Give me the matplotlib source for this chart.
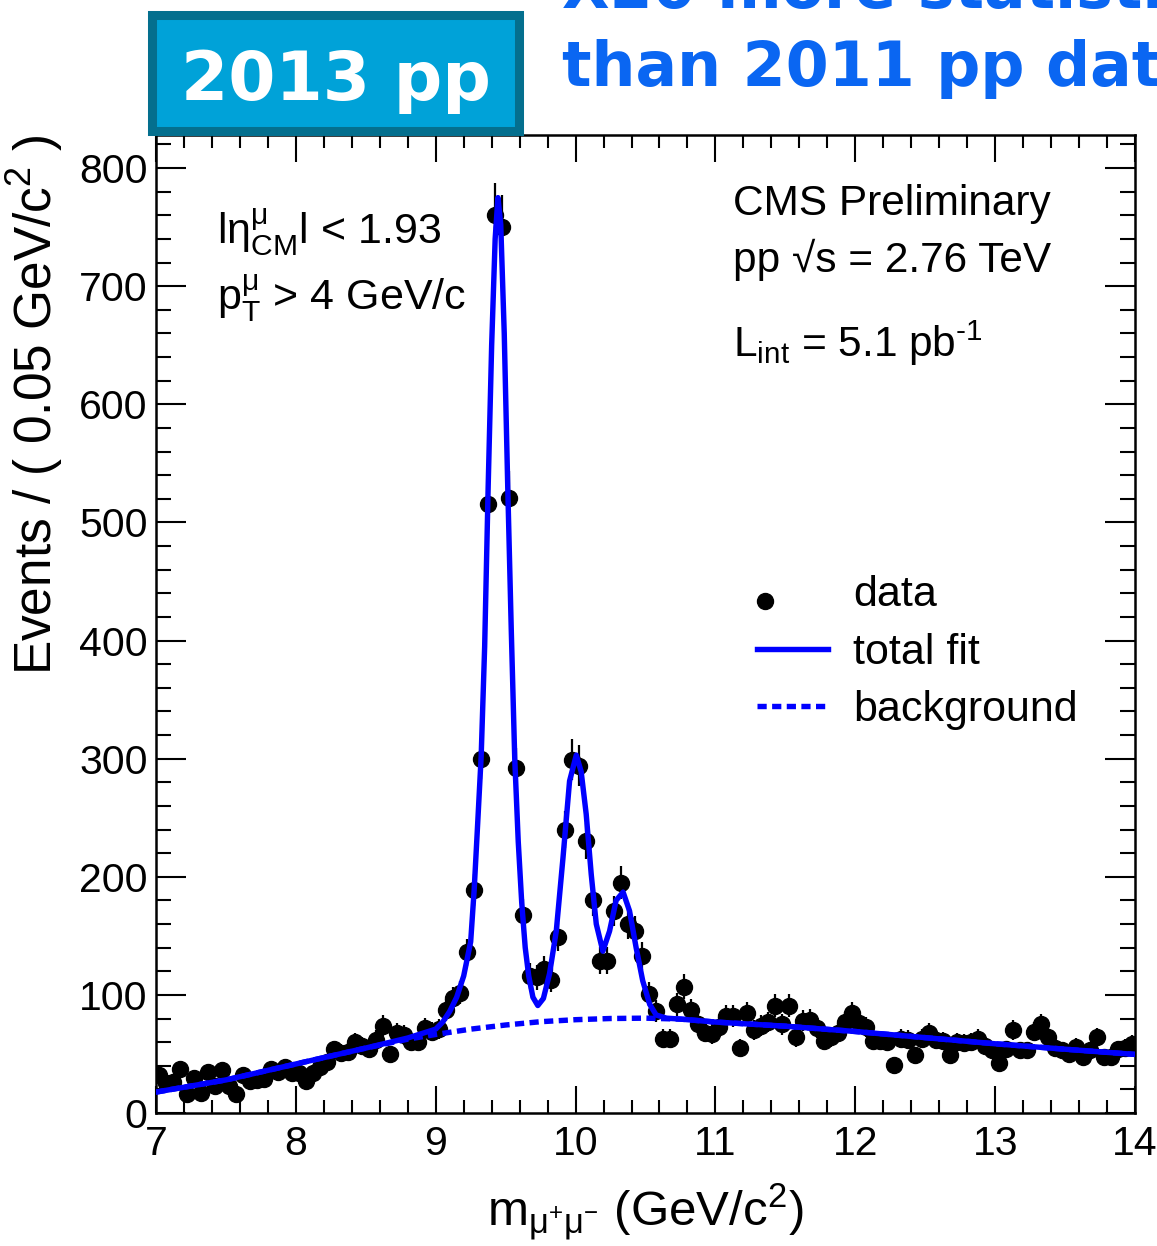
import numpy as np
import matplotlib
matplotlib.use("Agg")
import matplotlib.pyplot as plt
from matplotlib.patches import Rectangle
from matplotlib.ticker import MultipleLocator
from matplotlib.legend_handler import HandlerLine2D

plt.rcParams["font.family"] = ["Liberation Sans", "DejaVu Sans"]
plt.rcParams["mathtext.fontset"] = "custom"
plt.rcParams["mathtext.rm"] = "Liberation Sans"
plt.rcParams["mathtext.it"] = "Liberation Sans:italic"
plt.rcParams["mathtext.bf"] = "Liberation Sans:bold"
plt.rcParams["mathtext.sf"] = "Liberation Sans"

# dimuon mass histogram, 0.05 GeV bins from 7 to 14
mass_lo = 7.0
bin_width = 0.05
counts = [
    32, 25, 26, 37, 16, 30, 17, 35, 23, 36,
    23, 16, 32, 27, 28, 29, 37, 35, 39, 34,
    34, 27, 34, 39, 43, 54, 51, 52, 60, 57,
    54, 62, 74, 50, 68, 66, 60, 60, 72, 69,
    71, 87, 97, 102, 136, 189, 300, 516, 760, 750,
    521, 292, 168, 116, 115, 122, 113, 149, 240, 299,
    294, 230, 180, 129, 129, 171, 195, 160, 154, 133,
    101, 86, 63, 63, 92, 107, 87, 75, 68, 67,
    73, 82, 82, 55, 85, 70, 74, 77, 91, 75,
    91, 64, 78, 79, 72, 61, 64, 68, 77, 85,
    76, 73, 61, 61, 60, 41, 63, 62, 49, 63,
    68, 62, 61, 49, 60, 59, 60, 63, 57, 53,
    42, 54, 70, 53, 53, 69, 75, 64, 55, 53,
    50, 56, 47, 53, 64, 47, 47, 54, 55, 58,
]

# total fit curve
fit_mass = [7.0, 7.5, 8.0, 8.5, 8.8, 9.0, 9.05, 9.1, 9.15, 9.2,
            9.25, 9.275, 9.3, 9.325, 9.35, 9.375, 9.4, 9.425, 9.445, 9.465,
            9.49, 9.515, 9.54, 9.565, 9.59, 9.615, 9.64, 9.665, 9.695, 9.73,
            9.77, 9.814, 9.862, 9.91, 9.957, 10.005, 10.04, 10.076, 10.112, 10.148,
            10.195, 10.243, 10.29, 10.34, 10.386, 10.433, 10.48, 10.53, 10.576, 10.65,
            10.75, 11.0, 11.5, 12.0, 12.5, 13.0, 13.5, 14.0]
fit_total = [17.7, 28, 41.5, 55, 63.5, 71, 77, 86, 98, 116,
             145, 189, 245, 302, 395, 530, 650, 740, 775, 752,
             660, 530, 410, 300, 230, 178, 140, 116, 98, 91,
             97, 118, 154, 216, 281, 303, 289, 253, 202, 160,
             137, 154, 180, 187, 171, 140, 112, 92, 83, 80.3,
             79.5, 77, 73.5, 69, 63.8, 58.6, 54, 49.6]

# background component
bkg_mass = [7.0, 7.5, 8.0, 8.5, 8.8, 9.0, 9.25, 9.5, 9.75, 10.0,
            10.25, 10.5, 10.75, 11.0, 11.5, 12.0, 12.5, 13.0, 13.5, 14.0]
bkg_vals = [17.7, 28, 41.5, 55, 62.5, 66.5, 71, 74.5, 77.3, 79,
            80, 80.3, 79.5, 77, 73.5, 69, 63.8, 58.6, 54, 49.6]


class LeftMarker(HandlerLine2D):
    # ROOT puts the marker near the left end of the legend key, a bit low
    def get_xdata(self, legend, xdescent, ydescent, width, height, fontsize):
        c = -xdescent + 0.11 * width
        return [c - 1, c + 1], [c]

    def create_artists(self, legend, orig_handle, xdescent, ydescent,
                       width, height, fontsize, trans):
        arts = super().create_artists(legend, orig_handle, xdescent, ydescent,
                                      width, height, fontsize, trans)
        for a in arts:
            a.set_ydata(np.asarray(a.get_ydata()) - 0.33 * height)
        return arts


W, H = 1157, 1246
fig = plt.figure(figsize=(W / 100, H / 100), dpi=100)
ax = fig.add_axes([156 / W, 1 - 1113 / H, (1135 - 156) / W, (1113 - 135) / H])

centers = mass_lo + bin_width * (np.arange(len(counts)) + 0.5)
y = np.array(counts, dtype=float)
ax.errorbar(centers, y, yerr=np.sqrt(y), fmt="none", ecolor="black",
            elinewidth=1.6, capsize=0, zorder=3)
data_line, = ax.plot(centers, y, "o", color="black", ms=11.5, label="data", zorder=3)
ax.plot(fit_mass, fit_total, color="blue", lw=3.9, label="total fit", zorder=4)
ax.plot(bkg_mass, bkg_vals, color="blue", lw=3.9, ls=(0, (1.7, 1.0)),
        label="background", zorder=4)

ax.set_xlim(7, 14)
ax.set_ylim(0, 828)
ax.xaxis.set_major_locator(MultipleLocator(1))
ax.xaxis.set_minor_locator(MultipleLocator(0.2))
ax.yaxis.set_major_locator(MultipleLocator(100))
ax.yaxis.set_minor_locator(MultipleLocator(20))
ax.tick_params(which="both", direction="in", top=True, right=True, width=1.5,
               labelsize=29.5)
ax.tick_params(axis="x", which="major", length=19.5, pad=8.5)
ax.tick_params(axis="x", which="minor", length=9.5)
ax.tick_params(axis="y", which="major", length=21.5, pad=6)
ax.tick_params(axis="y", which="minor", length=11)
for s in ax.spines.values():
    s.set_linewidth(1.8)

ax.set_xlabel(r"m$_{\mathrm{μ^{+}μ^{-}}}$ (GeV/c$^{2}$)", fontsize=35.5)
ax.xaxis.set_label_coords(0.5, -0.07)
ax.set_ylabel(r"Events / ( 0.05 GeV/c$^{2}$ )", fontsize=37, loc="top")
ax.yaxis.set_label_coords(-0.093, 1.0)

leg = ax.legend(loc="upper left", bbox_to_anchor=((757 - 156) / 979, (1113 - 575) / 978),
                frameon=False, fontsize=31, handlelength=1.65, handletextpad=0.58,
                labelspacing=0.41, borderpad=0, borderaxespad=0, numpoints=1,
                handler_map={data_line: LeftMarker()})


def ftext(px, py, s, **kw):
    fig.text(px / W, 1 - py / H, s, va="baseline", **kw)


ftext(217, 244, r"l$\mathrm{η}^{\mathrm{μ}}_{\mathrm{CM}}$l < 1.93", fontsize=31)
ftext(217, 310, r"p$^{\mathrm{μ}}_{\mathrm{T}}$ > 4 GeV/c", fontsize=31)
ftext(733, 215, "CMS Preliminary", fontsize=30.5)
ftext(733, 272, "pp √s = 2.76 TeV", fontsize=30.5)
ftext(733, 357, r"L$_{\mathrm{int}}$ = 5.1 pb$^{\text{-1}}$", fontsize=30.5)

# header badge and blue note (the note runs off the page, as in the slide)
fig.patches.append(Rectangle((152.5 / W, 1 - 130.5 / H), 366 / W, 116 / H,
                             transform=fig.transFigure, facecolor="#00a2d8",
                             edgecolor="#046f8e", linewidth=6.5, zorder=5))
fig.text(336 / W, 1 - 100 / H, "2013 pp", family="DejaVu Sans", weight="bold",
         color="white", fontsize=49, ha="center", va="baseline", zorder=6)
fig.text(562 / W, 1 - 8 / H, "X20 more statistics", family="DejaVu Sans",
         weight="bold", color="#0a66f2", fontsize=44.5, va="baseline")
fig.text(562 / W, 1 - 86 / H, "than 2011 pp data", family="DejaVu Sans",
         weight="bold", color="#0a66f2", fontsize=44.5, va="baseline")

fig.savefig("out.png", dpi=100)
